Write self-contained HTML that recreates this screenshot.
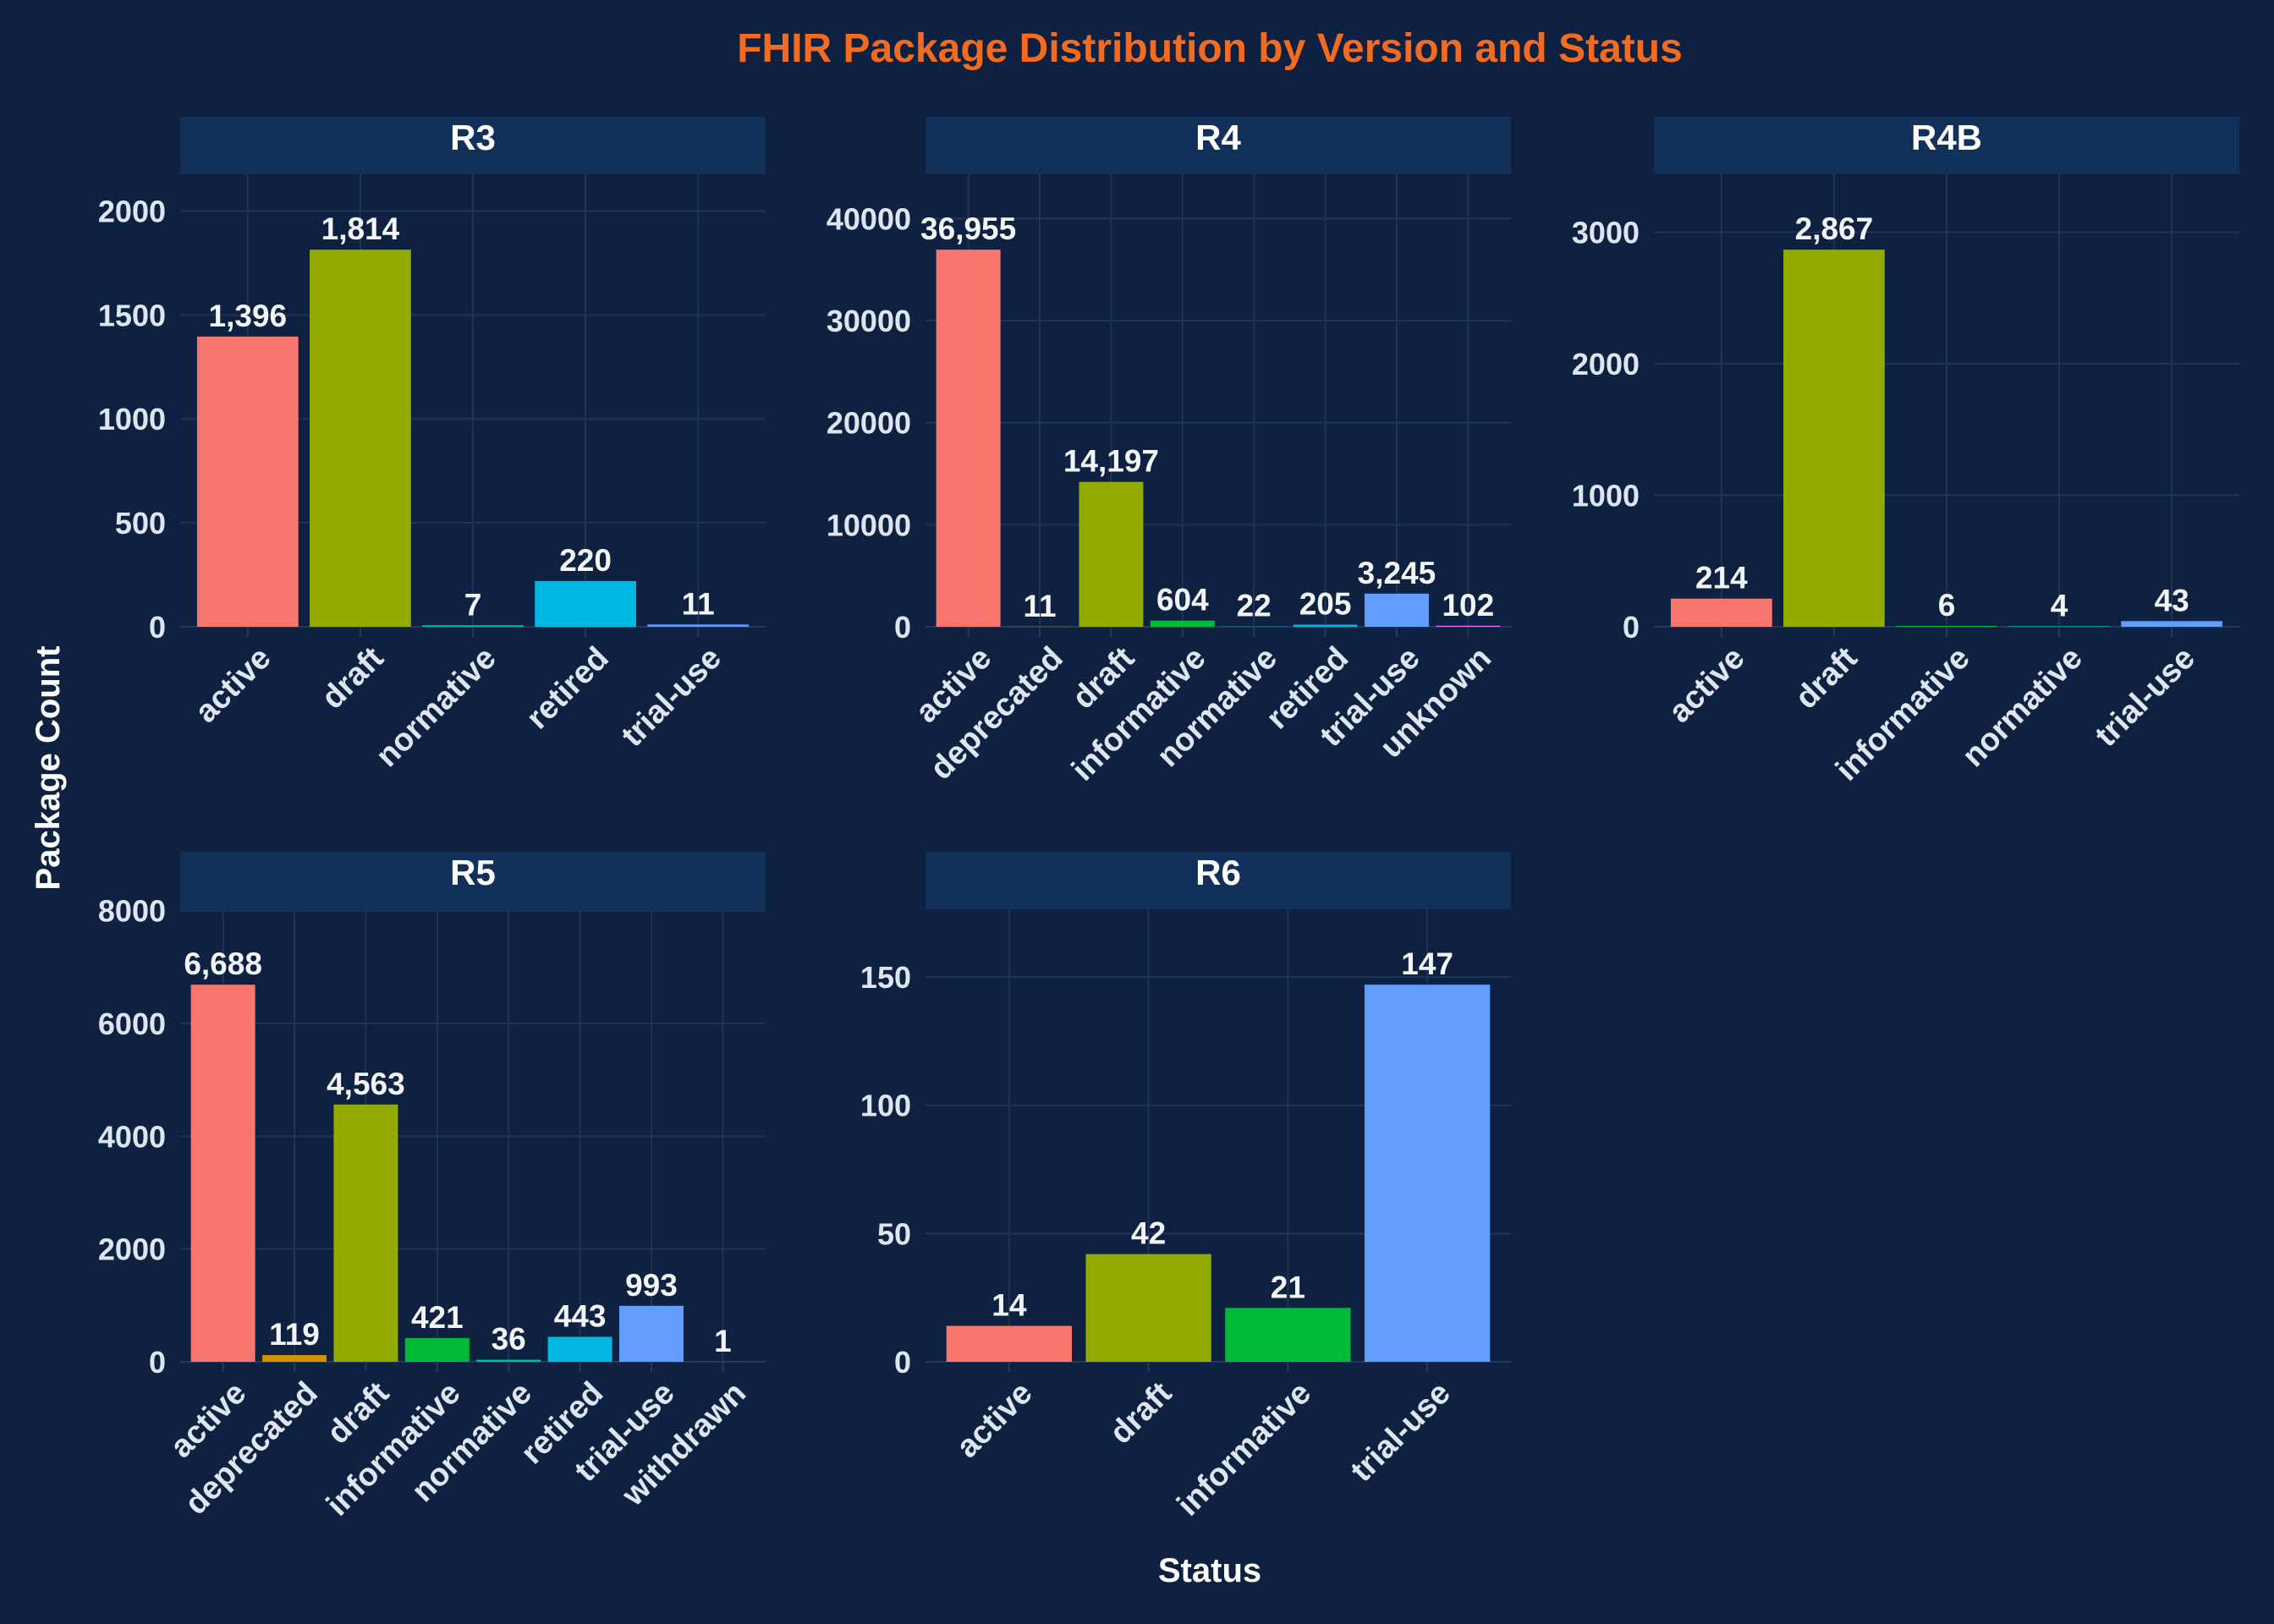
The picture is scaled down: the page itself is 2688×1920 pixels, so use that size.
<!DOCTYPE html>
<html><head><meta charset="utf-8"><style>
html,body{margin:0;padding:0;background:#0e2140;}
svg{display:block;font-family:"Liberation Sans",Arial,sans-serif;}
</style></head><body>
<svg id="chart" width="2688" height="1920" viewBox="0 0 2688 1920">
<rect width="2688" height="1920" fill="#0e2140"/>
<text x="1430" y="73" text-anchor="middle" font-size="48" font-weight="bold" fill="#f26b21">FHIR Package Distribution by Version and Status</text>
<text transform="translate(70,908) rotate(-90)" text-anchor="middle" font-size="40" font-weight="bold" fill="#ffffff">Package Count</text>
<text x="1430" y="1870" text-anchor="middle" font-size="40" font-weight="bold" fill="#ffffff">Status</text>
<g id="panels"></g>
</svg>
<script>
const colorMap = {"active":"#F8766D","deprecated":"#D39200","draft":"#93AA00","informative":"#00BA38","normative":"#00C19F","retired":"#00B9E3","trial-use":"#619CFF","unknown":"#DB72FB","withdrawn":"#FF61C3"};

const r3Categories = ["active","draft","normative","retired","trial-use"];
const r3Values = [1396,1814,7,220,11];
const r3Ticks = [0,500,1000,1500,2000];

const r4Categories = ["active","deprecated","draft","informative","normative","retired","trial-use","unknown"];
const r4Values = [36955,11,14197,604,22,205,3245,102];
const r4Ticks = [0,10000,20000,30000,40000];

const r4bCategories = ["active","draft","informative","normative","trial-use"];
const r4bValues = [214,2867,6,4,43];
const r4bTicks = [0,1000,2000,3000];

const r5Categories = ["active","deprecated","draft","informative","normative","retired","trial-use","withdrawn"];
const r5Values = [6688,119,4563,421,36,443,993,1];
const r5Ticks = [0,2000,4000,6000,8000];

const r6Categories = ["active","draft","informative","trial-use"];
const r6Values = [14,42,21,147];
const r6Ticks = [0,50,100,150];

const NS = "http://www.w3.org/2000/svg";
const root = document.getElementById("panels");
function mk(tag, attrs, parent){
  const e = document.createElementNS(NS, tag);
  for (const k in attrs) e.setAttribute(k, attrs[k]);
  parent.appendChild(e);
  return e;
}
function fmt(v){ return v.toLocaleString("en-US"); }

function panel(name, cats, vals, ticks, x0, x1, stripTop){
  const g = mk("g", {}, root);
  
  
  const stripBottom = stripTop + 68;
  const y0 = stripBottom, y1 = stripTop + 603;
  const strip = mk("rect", {x:x0, y:stripTop, width:x1-x0, height:68, fill:"#12315a"}, g);
  
  
  const st = mk("text", {x:(x0+x1)/2, y:stripTop+39, "text-anchor":"middle", "font-size":"42", "font-weight":"bold", fill:"#ffffff"}, g);
  st.textContent = name;
  
  
  const ymax = Math.max(...vals) * 1.2;
  const ys = v => y1 - (v / ymax) * (y1 - y0);
  const n = cats.length;
  const xs = i => x0 + ((i + 1 - 0.4) / (n + 0.2)) * (x1 - x0);
  const bw = 0.9 / (n + 0.2) * (x1 - x0);
  ticks.forEach(t => {
    const l = mk("line", {x1:x0, x2:x1, y1:ys(t), y2:ys(t), stroke:"#1f3455", "stroke-width":"2"}, g);
    
    
    const tl = mk("text", {x:x0-17, y:ys(t)+13, "text-anchor":"end", "font-size":"36", "font-weight":"bold", fill:"#dde6f0"}, g);
    tl.textContent = t;
    
    
  });
  cats.forEach((c, i) => {
    const l = mk("line", {x1:xs(i), x2:xs(i), y1:y0, y2:y1, stroke:"#1f3455", "stroke-width":"2"}, g);
    
    
  });
  const ax = mk("line", {x1:x0, x2:x1, y1:y1, y2:y1, stroke:"#24395c", "stroke-width":"2"}, g);
  
  
  cats.forEach((c, i) => {
    const v = vals[i];
    const tk = mk("line", {x1:xs(i), x2:xs(i), y1:y1, y2:y1+12, stroke:"#24395c", "stroke-width":"2"}, g);
    
    
    const b = mk("rect", {x:xs(i)-bw/2, y:ys(v), width:bw, height:Math.max(y1-ys(v),0), fill:colorMap[c]}, g);
    
    
    const vl = mk("text", {x:xs(i), y:ys(v)-12, "text-anchor":"middle", "font-size":"37", "font-weight":"bold", fill:"#f2f5f8"}, g);
    vl.textContent = fmt(v);
    
    
    const xl = mk("text", {transform:"translate(" + (xs(i)+10) + "," + (y1+20) + ") rotate(-45)", "text-anchor":"end", dy:"0.72em", "font-size":"38", "font-weight":"bold", fill:"#dde6f0"}, g);
    xl.textContent = c;
    
    
  });
}
panel("R3", r3Categories, r3Values, r3Ticks, 213, 905, 138);
panel("R4", r4Categories, r4Values, r4Ticks, 1094, 1786, 138);
panel("R4B", r4bCategories, r4bValues, r4bTicks, 1955, 2647, 138);
panel("R5", r5Categories, r5Values, r5Ticks, 213, 905, 1007);
panel("R6", r6Categories, r6Values, r6Ticks, 1094, 1786, 1007);
</script>
</body></html>
